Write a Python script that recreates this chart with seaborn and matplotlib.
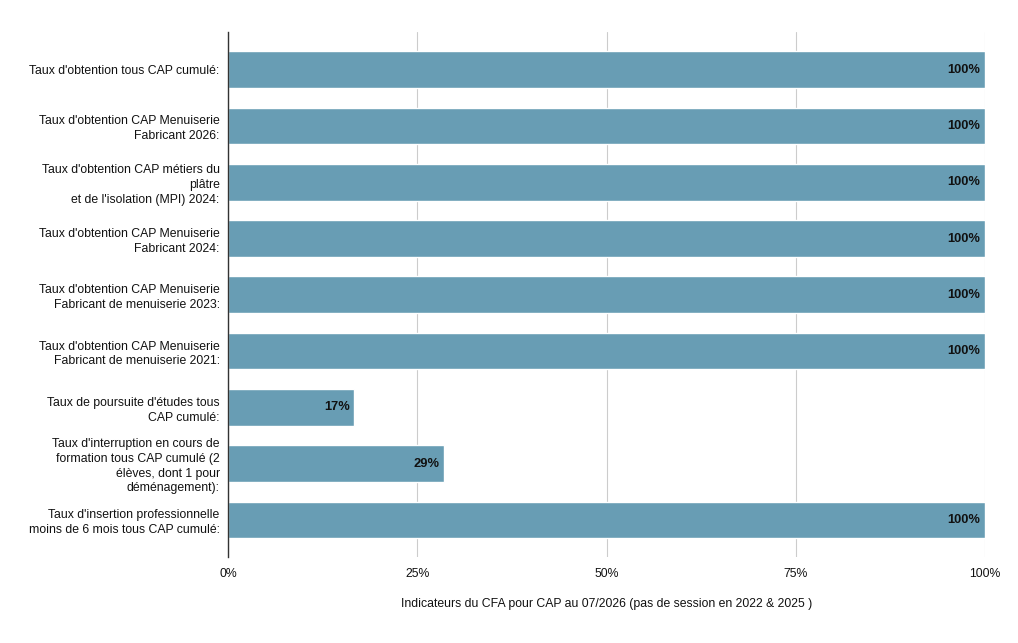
import matplotlib
matplotlib.use('Agg')
import matplotlib.pyplot as plt
import seaborn as sns
import pandas as pd
from matplotlib.ticker import FuncFormatter

# data
labels = [
    "Taux d'obtention tous CAP cumulé:",
    "Taux d'obtention CAP Menuiserie\nFabricant 2026:",
    "Taux d'obtention CAP métiers du\nplâtre\net de l'isolation (MPI) 2024:",
    "Taux d'obtention CAP Menuiserie\nFabricant 2024:",
    "Taux d'obtention CAP Menuiserie\nFabricant de menuiserie 2023:",
    "Taux d'obtention CAP Menuiserie\nFabricant de menuiserie 2021:",
    "Taux de poursuite d'études tous\nCAP cumulé:",
    "Taux d'interruption en cours de\nformation tous CAP cumulé (2\nélèves, dont 1 pour\ndéménagement):",
    "Taux d'insertion professionnelle\nmoins de 6 mois tous CAP cumulé:",
]
values = [100, 100, 100, 100, 100, 100, 16.67, 28.57, 100]
value_labels = ["100%", "100%", "100%", "100%", "100%", "100%", "17%", "29%", "100%"]
x_ticks = [0, 25, 50, 75, 100]

df = pd.DataFrame({'label': labels, 'value': values})

sns.set_theme(style='white')
plt.rcParams['font.family'] = ['Liberation Sans', 'DejaVu Sans']

fig = plt.figure(figsize=(10.18, 6.43), dpi=100)
ax = fig.add_axes([228/1018, 1 - 557/643, (985-228)/1018, (557-32)/643])

sns.barplot(data=df, x='value', y='label', color='#689db4', width=0.65,
            saturation=1, ax=ax, zorder=3)

for i, (v, t) in enumerate(zip(values, value_labels)):
    ax.text(v - 0.6, i, t, ha='right', va='center', fontsize=9.3,
            fontweight='bold', color='#111111', zorder=4)

ax.set_xlim(0, 100)
ax.set_ylim(8.66, -0.67)
ax.set_xticks(x_ticks)
ax.xaxis.set_major_formatter(FuncFormatter(lambda x, p: f"{int(x)}%"))
ax.grid(axis='x', color='#cccccc', linewidth=0.8, zorder=0)
ax.grid(axis='y', visible=False)
ax.set_axisbelow(True)

for s in ['top', 'right', 'bottom']:
    ax.spines[s].set_visible(False)
ax.spines['left'].set_color('#333333')
ax.spines['left'].set_linewidth(1)
ax.spines['left'].set_zorder(5)

ax.tick_params(axis='both', length=0, labelsize=8.8, colors='#111111')
ax.tick_params(axis='x', pad=8)
ax.tick_params(axis='y', pad=6)
for t in ax.get_yticklabels():
    t.set_linespacing(1.3)
ax.set_ylabel('')
ax.set_xlabel('Indicateurs du CFA pour CAP au 07/2026 (pas de session en 2022 & 2025 )',
              fontsize=8.8, color='#111111', labelpad=13)

plt.savefig('out.png', dpi=100)
plt.close()
